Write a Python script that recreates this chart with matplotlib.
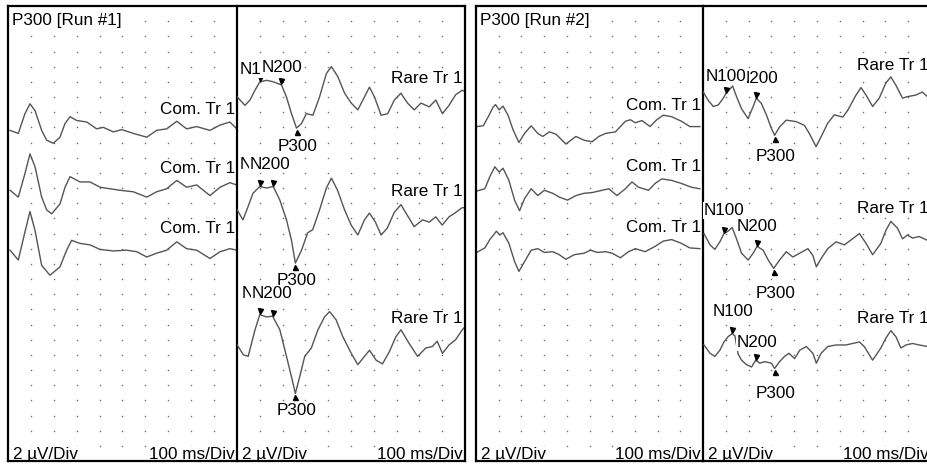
import matplotlib
matplotlib.use("Agg")
import matplotlib.pyplot as plt
import numpy as np
from matplotlib.transforms import offset_copy

plt.rcParams['font.family'] = ['Liberation Sans', 'DejaVu Sans']
plt.rcParams['font.size'] = 12.3

# averaged sweeps, latency in ms and amplitude in uV (positive plotted downwards)
# run 1, common (frequent) tone, three averages
run1_com_t = [
    [9, 45, 74, 96, 118, 147, 169, 198, 227, 249, 271, 300, 344, 387, 416, 460, 497, 547, 606, 649, 693, 737, 780, 824, 882, 926, 969, 999],
    [9, 45, 74, 96, 118, 147, 169, 191, 227, 249, 271, 314, 358, 402, 445, 489, 547, 606, 649, 693, 737, 780, 824, 882, 926, 969, 999],
    [9, 45, 74, 96, 118, 147, 183, 227, 256, 278, 314, 358, 402, 460, 518, 562, 606, 649, 693, 737, 780, 824, 882, 926, 969, 999],
]
run1_com_uv = [
    [0, 0.4, -2.2, -3.5, -2.6, 0, 1.3, 1.7, 0.9, -0.9, -1.8, -1.3, -1.1, -0.2, -0.4, 0.2, -0.1, 0.4, 0.9, 0, -0.2, -1.2, -0.2, -0.5, 0, -0.7, -1.1, -0.2],
    [0, 0.9, -2.2, -4.8, -3.1, 0.9, 2.6, 3.1, 1.8, -0.4, -1.8, -1.1, -1.1, -0.4, -0.2, 0, 0.2, 0.9, 0.2, -0.2, -1.3, -0.4, -0.7, 0.7, -0.4, -1.0, -0.7],
    [0, 1.3, -2.4, -5.1, -2.6, 2.0, 3.3, 2.2, 0, -1.3, -0.9, -0.7, -0.1, 0.1, 0, 0.2, 0.9, 0.4, 0, -1.1, -0.2, 0, 1.1, 0.2, -0.2, 0],
]

# run 1, rare (target) tone
run1_rare_t = [
    [1, 35, 57, 79, 100, 130, 159, 195, 217, 239, 261, 283, 304, 333, 362, 392, 414, 442, 472, 501, 530, 552, 581, 603, 632, 661, 690, 719, 748, 777, 807, 843, 872, 901, 930, 959, 988, 1000],
    [1, 26, 48, 70, 100, 130, 159, 188, 217, 239, 256, 283, 310, 332, 362, 392, 414, 441, 472, 501, 530, 559, 581, 607, 632, 659, 690, 719, 747, 777, 814, 843, 872, 900, 930, 956, 987, 1000],
    [1, 28, 49, 79, 100, 130, 156, 188, 217, 239, 256, 275, 297, 326, 355, 384, 406, 435, 464, 501, 530, 559, 581, 610, 638, 668, 697, 719, 755, 792, 828, 857, 878, 901, 930, 959, 988, 1000],
]
run1_rare_uv = [
    [0, 1.1, 0.4, -0.9, -2.0, -2.2, -2.0, -1.6, 0, 2.2, 4.1, 3.5, 2.2, 2.4, 0, -3.1, -4.0, -2.7, -0.5, 0.8, 1.7, 0.4, -1.3, 0, 2.4, 2.2, 0.4, -0.5, 0.8, 1.7, 0.8, 1.3, 0.4, 2.2, 1.1, -0.3, -0.9, -0.7],
    [0, 1.3, -0.4, -2.2, -3.1, -2.9, -3.1, -1.3, 1.3, 4.0, 7.0, 5.3, 3.0, 2.6, 0, -2.9, -4.2, -2.6, 0, 2.0, 3.3, 1.3, 0.4, 1.6, 3.3, 2.4, 0.3, -0.7, 0.7, 2.2, 1.3, 1.6, 0.9, 2.0, 0.9, 0.4, -0.3, -0.3],
    [0, 1.3, 1.5, -2.0, -4.0, -3.7, -3.8, -2.0, 1.5, 4.2, 6.4, 4.2, 1.5, 0.4, -2.0, -3.7, -4.4, -3.3, -1.1, 1.1, 2.6, 1.5, 0.7, 2.0, 2.5, 0.9, -1.1, -2.0, -0.2, 1.5, 0.4, 0.2, -0.5, 1.1, 0, -0.7, -2.0, -2.4],
]
run1_n100_ms = [100, 100, 100]
run1_n200_ms = [195, 159, 156]
run1_p300_ms = [261, 256, 256]

# run 2, common tone
run2_com_t = [
    [3, 32, 54, 76, 86, 102, 119, 141, 163, 189, 214, 243, 272, 294, 323, 352, 396, 440, 476, 512, 541, 571, 614, 658, 680, 702, 731, 767, 796, 825, 862, 905, 942, 986],
    [3, 39, 61, 83, 102, 119, 145, 170, 192, 214, 243, 272, 301, 338, 367, 403, 440, 476, 512, 556, 585, 621, 658, 687, 716, 760, 789, 818, 862, 905, 949, 986],
    [3, 39, 61, 90, 105, 119, 145, 170, 189, 214, 243, 272, 301, 338, 367, 396, 432, 476, 505, 534, 571, 600, 636, 672, 702, 745, 789, 825, 862, 905, 942, 986],
]
run2_com_uv = [
    [0, -0.1, -1.3, -2.6, -2.9, -2.2, -2.7, -1.5, 0.4, 2.1, 0.9, -0.1, 0.9, 1.3, 0.7, 1.0, 2.3, 1.3, 1.8, 2.0, 1.3, 0.9, 0.7, -0.7, -0.9, -0.5, -0.8, 0, -0.9, -1.5, -1.3, -0.7, 0, 0],
    [0, -0.3, -1.9, -3.2, -2.5, -3.0, -1.4, 1.2, 2.6, 1.0, -0.3, 0.6, -0.1, 0.3, 0.8, 1.2, 0.6, 0.3, 0.2, -0.1, -0.3, 0.6, -0.3, -1.2, -0.5, -0.1, -1.0, -1.6, -1.4, -1.0, -0.5, -0.3],
    [0, -0.6, -1.7, -2.8, -2.3, -2.6, -1.2, 1.2, 2.5, 1.2, -0.3, -0.5, 0, -0.1, 0.3, 0.9, 0.3, 0.1, -0.3, 0, -0.1, 0.1, 0.7, -0.1, -0.5, -0.1, -0.8, -1.5, -1.7, -1.2, -0.6, -0.5],
]

# run 2, rare tone
run2_rare_t = [
    [1, 23, 45, 67, 89, 100, 130, 147, 169, 198, 220, 234, 256, 278, 300, 314, 336, 365, 409, 445, 467, 496, 518, 547, 576, 613, 635, 671, 693, 715, 744, 773, 802, 824, 846, 875, 897, 933, 962, 984],
    [4, 31, 52, 74, 92, 110, 128, 147, 169, 198, 220, 237, 264, 286, 310, 336, 365, 394, 424, 460, 482, 497, 518, 547, 584, 620, 656, 686, 715, 744, 780, 802, 824, 853, 875, 897, 919, 948, 984],
    [4, 31, 52, 74, 92, 110, 128, 140, 154, 169, 191, 213, 231, 249, 271, 300, 314, 336, 358, 377, 402, 424, 453, 482, 497, 518, 547, 584, 627, 656, 686, 707, 744, 780, 802, 824, 846, 868, 890, 919, 948, 984],
]
run2_rare_uv = [
    [0, 1.1, 1.9, 1.7, 0.8, 0.2, -0.8, 0.6, 2.2, 3.5, 1.9, 0.8, 1.5, 3.0, 4.8, 5.7, 4.6, 3.7, 3.9, 4.4, 5.5, 7.2, 5.9, 4.1, 3.0, 3.3, 2.4, 0.4, -0.6, 0.4, 1.9, 0.8, -1.2, -2.0, -0.9, 0.8, 0.6, 0.4, 0, 0.6],
    [0, 1.5, 2.1, 1.1, 0, -0.3, -0.8, 0.7, 2.6, 3.5, 2.6, 1.7, 2.2, 3.5, 4.6, 3.5, 2.4, 3.1, 2.6, 2.0, 2.9, 4.4, 3.3, 2.0, 1.1, 1.5, 0.7, 0, 1.3, 2.8, 1.3, -0.4, -1.6, -0.7, 0.7, 0.2, 0.6, 0.4, 0.9],
    [0, 1.1, 1.5, 0.7, -0.4, -1.1, -1.5, -1.2, 1.2, 2.0, 2.6, 2.9, 2.0, 2.4, 2.2, 2.4, 3.1, 2.2, 1.5, 1.1, 1.8, 0.7, 0.2, 1.1, 2.4, 1.1, 0.2, 0, 0, -0.2, -0.4, 0.2, 2.0, 0.4, -0.9, -1.9, -1.1, 0.4, 0, -0.2, 0, 0.2],
]
run2_n100_ms = [100, 92, 128]
run2_n200_ms = [234, 237, 231]
run2_p300_ms = [314, 310, 314]

panel_titles = ["P300 [Run #1]", "P300 [Run #2]"]
com_label = "Com. Tr 1"
rare_label = "Rare Tr 1"
peak_names = ["N100", "N200", "P300"]
amp_scale = "2 \u00b5V/Div"
time_scale = "100 ms/Div"

# ---- layout -------------------------------------------------------------
W, H = 928, 466
TOP, BOTTOM = 6, 461
# sweep baselines (uV below the top of the window)
run1_com_base = [16.4, 24.3, 32.2]
run1_rare_base = [12.0, 26.9, 44.7]
run2_com_base = [15.9, 24.4, 32.5]
run2_rare_base = [11.35, 30.0, 44.7]
run1_com_tag = [-2.7, -2.9, -2.9]
run1_rare_tag = [-2.5, -2.4, -3.5]
run2_com_tag = [-2.8, -3.3, -3.3]
run2_rare_tag = [-3.5, -3.3, -3.5]
# peak label offsets in points, and which of N100/N200 sits on top
run1_lbl = {
    "N100": [(-14.4, 9.1), (-14.4, 15.6), (-13.0, 15.5)],
    "N200": [(-14.2, 12.2), (-16.8, 15.6), (-14.9, 16.2)],
    "P300": [(1.0, -13.5), (1.2, -12.7), (1.0, -12.0)],
}
run2_lbl = {
    "N100": [(-14.4, 12.2), (-14.4, 16.8), (-13.9, 15.7)],
    "N200": [(-13.5, 13.9), (-14.6, 14.4), (-13.7, 12.6)],
    "P300": [(0.7, -15.5), (1.4, -18.0), (0.7, -18.0)],
}
run1_n100_top = [False, False, False]
run2_n100_top = [True, False, False]

TRACE_C = "#555555"
BOX = dict(boxstyle="square,pad=0.05", fc="white", ec="none")

fig = plt.figure(figsize=(W / 100, H / 100), dpi=100)
fig.patch.set_facecolor("white")


def px_axes(x0, x1):
    return fig.add_axes([x0 / W, 1 - BOTTOM / H, (x1 - x0) / W, (BOTTOM - TOP) / H])


def setup(ax, rare):
    ax.set_xlim(0, 1000)
    ax.set_ylim(60, 0)
    ax.set_xticks([])
    ax.set_yticks([])
    gx, gy = np.meshgrid(np.arange(100, 1000, 100), np.arange(2, 60, 2))
    ax.plot(gx.ravel(), gy.ravel(), ls="none", marker="s", ms=1.0, mew=0,
            color="#6e6e6e", zorder=1)
    for sp in ax.spines.values():
        sp.set_linewidth(1.6)
        sp.set_color("black")
        sp.set_zorder(10)
    if rare:
        # the separator comes from the common half's right spine
        ax.spines["left"].set_visible(False)
        ax.patch.set_visible(False)
    ax.annotate(amp_scale, xy=(0, 0), xycoords="axes fraction", xytext=(3.6, 4.8),
                textcoords="offset points", ha="left", va="center", bbox=BOX, zorder=5)
    ax.annotate(time_scale, xy=(1, 0), xycoords="axes fraction", xytext=(-1.5, 4.8),
                textcoords="offset points", ha="right", va="center", bbox=BOX, zorder=5)


def draw_com(ax, ts, uvs, bases, tags):
    for t, uv, b, tg in zip(ts, uvs, bases, tags):
        ax.plot(t, b + np.array(uv), color=TRACE_C, lw=1.0, zorder=2)
        ax.annotate(com_label, xy=(1, b + tg), xycoords=("axes fraction", "data"),
                    xytext=(-1.5, 0), textcoords="offset points", ha="right",
                    va="center", bbox=BOX, zorder=5)


def draw_rare(ax, ts, uvs, bases, tags, lat, lbl, n100_top):
    up = offset_copy(ax.transData, fig=fig, y=3.5, units="dots")
    down = offset_copy(ax.transData, fig=fig, y=-3.5, units="dots")
    for i, (t, uv, b, tg) in enumerate(zip(ts, uvs, bases, tags)):
        y = b + np.array(uv)
        ax.plot(t, y, color=TRACE_C, lw=1.0, zorder=2)
        ax.annotate(rare_label, xy=(1, b + tg), xycoords=("axes fraction", "data"),
                    xytext=(-1.5, 0), textcoords="offset points", ha="right",
                    va="center", bbox=BOX, zorder=5)
        for name, lat_ms in zip(peak_names, lat):
            tp = lat_ms[i]
            yp = np.interp(tp, t, y)
            if name == "P300":
                ax.plot(tp, yp, marker="^", ms=3.6, color="black", transform=down, zorder=3)
                ha = "center"
                z = 5
            else:
                ax.plot(tp, yp, marker="v", ms=3.6, color="black", transform=up, zorder=3)
                ha = "left"
                z = 6 if (name == "N100") == n100_top[i] else 5
            ax.annotate(name, xy=(tp, yp), xytext=lbl[name][i], textcoords="offset points",
                        ha=ha, va="center", bbox=BOX, zorder=z)


panels = [
    (8, 237, 465, run1_com_t, run1_com_uv, run1_com_base, run1_com_tag,
     run1_rare_t, run1_rare_uv, run1_rare_base, run1_rare_tag,
     [run1_n100_ms, run1_n200_ms, run1_p300_ms], run1_lbl, run1_n100_top),
    (476, 703, 931, run2_com_t, run2_com_uv, run2_com_base, run2_com_tag,
     run2_rare_t, run2_rare_uv, run2_rare_base, run2_rare_tag,
     [run2_n100_ms, run2_n200_ms, run2_p300_ms], run2_lbl, run2_n100_top),
]

for k, (x0, xm, x1, ct, cu, cb, ctg, rt, ru, rb, rtg, lat, lbl, ntop) in enumerate(panels):
    ax_c = px_axes(x0, xm)
    ax_r = px_axes(xm, x1)
    setup(ax_c, False)
    setup(ax_r, True)
    ax_c.annotate(panel_titles[k], xy=(0, 1), xycoords="axes fraction", xytext=(3.2, -10.8),
                  textcoords="offset points", ha="left", va="center", bbox=BOX, zorder=5)
    draw_com(ax_c, ct, cu, cb, ctg)
    draw_rare(ax_r, rt, ru, rb, rtg, lat, lbl, ntop)

fig.savefig("out.png", dpi=100, facecolor="white")
